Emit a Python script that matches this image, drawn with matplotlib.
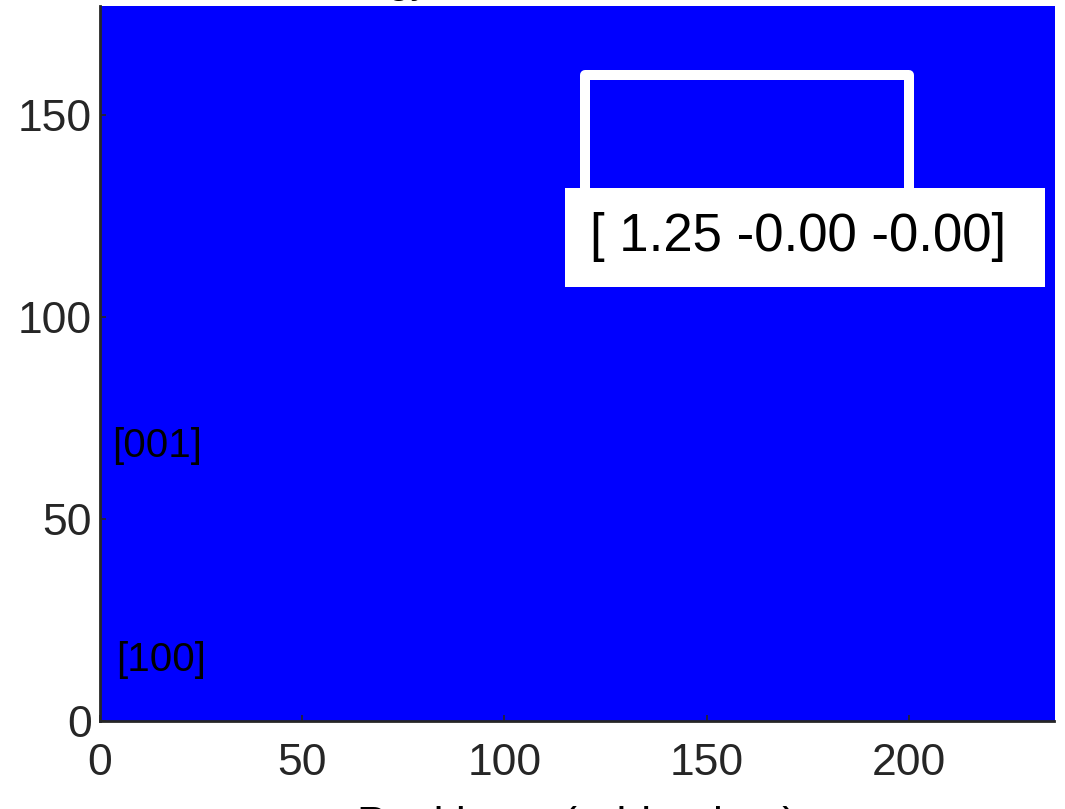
import numpy as np
import matplotlib
matplotlib.use("Agg")
import matplotlib.pyplot as plt
from matplotlib.patches import Rectangle

plt.rcParams['font.family'] = ['Liberation Sans', 'DejaVu Sans']

# field shown as an image (uniform value everywhere)
nx, ny = 236, 177
field = np.zeros((ny, nx))

# region outline drawn on top of the field
region_x = [120, 200]
region_y = [120, 160]

# vector readout
vector = [1.25, -0.00, -0.00]
vector_label = "[ " + " ".join("%.2f" % v for v in vector) + "] "
vector_pos = (174.4, 119.8)

# direction labels
dir_labels = ["[001]", "[100]"]
dir_pos = [(3, 68), (4, 15)]

xticks = [0, 50, 100, 150, 200]
yticks = [0, 50, 100, 150]

fig = plt.figure(figsize=(10.65, 8.09), dpi=100)
ax = fig.add_axes([0.094, 0.109, 0.896, 0.883])

ax.imshow(field, cmap='bwr', vmin=0, vmax=1, origin='lower',
          extent=[0, nx, 0, ny], aspect='auto', interpolation='nearest')

rect = Rectangle((region_x[0], region_y[0]), region_x[1] - region_x[0],
                 region_y[1] - region_y[0], fill=False, edgecolor='white',
                 linewidth=7.2, joinstyle='round', zorder=3)
ax.add_patch(rect)

ax.text(vector_pos[0], vector_pos[1], vector_label, fontsize=38,
        ha='center', va='center', color='black', zorder=4,
        bbox=dict(boxstyle='square,pad=0.47', facecolor='white', edgecolor='none'))

for lab, (x, y) in zip(dir_labels, dir_pos):
    ax.text(x, y, lab, fontsize=29, ha='left', va='center', color='black')

ax.set_xlim(0, nx)
ax.set_ylim(0, ny)
ax.set_xticks(xticks)
ax.set_yticks(yticks)
ax.tick_params(direction='in', length=4, width=1.2, colors='#262626',
               labelsize=32)
ax.tick_params(axis='x', pad=16)
ax.tick_params(axis='y', pad=6)
for s in ['top', 'right']:
    ax.spines[s].set_visible(False)
for s in ['left', 'bottom']:
    ax.spines[s].set_color('#262626')
    ax.spines[s].set_linewidth(2)

# title and x label sit mostly outside the picture, as in the original crop
ax.set_title("Energy at the end of relaxation", fontsize=29, pad=9.5)
ax.set_xlabel("Position x (grid points)", fontsize=32, labelpad=15.5)

fig.savefig("out.png", dpi=100)
